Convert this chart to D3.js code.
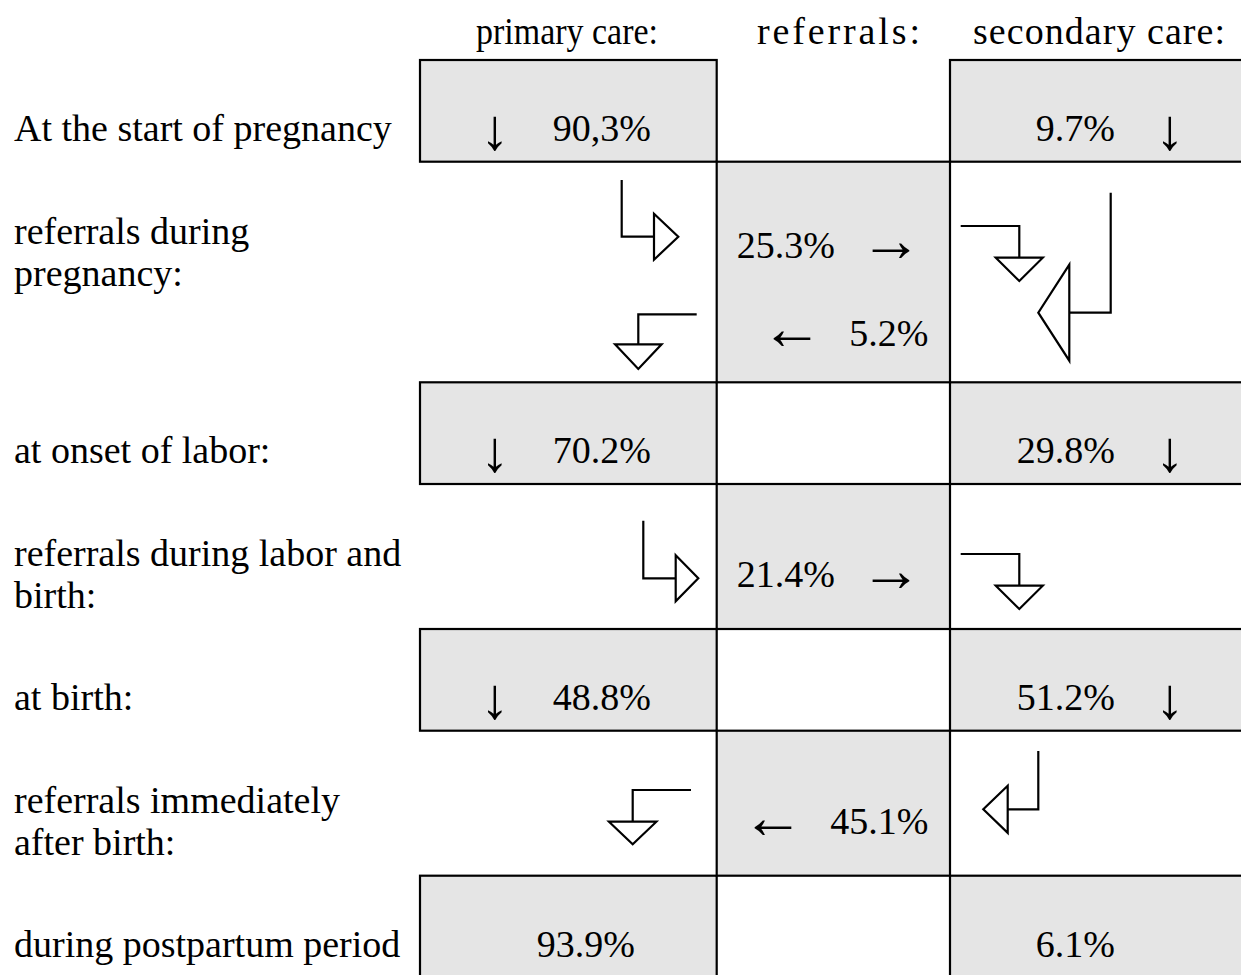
<!DOCTYPE html>
<html>
<head>
<meta charset="utf-8">
<script src="https://cdn.jsdelivr.net/npm/d3@7"></script>
<style>
  body { margin: 0; background: #fff; }
  text { font-family: "Liberation Serif", "Times New Roman", serif; fill: #000; }
</style>
</head>
<body>
<div id="main"></div>
<script>
// chart data
const columns = ["primary care:", "referrals:", "secondary care:"];
const stages = ["At the start of pregnancy", "at onset of labor:", "at birth:", "during postpartum period"];
const transitions = [["referrals during", "pregnancy:"], ["referrals during labor and", "birth:"], ["referrals immediately", "after birth:"]];
const primaryPct = ["90,3%", "70.2%", "48.8%", "93.9%"];
const secondaryPct = ["9.7%", "29.8%", "51.2%", "6.1%"];
const continuesDown = [true, true, true, false];
const toSecondary = ["25.3%", "21.4%", null];
const toPrimary = ["5.2%", null, "45.1%"];

//layout
const width = 1241;
const height = 975;
const fontSize = 38;
const arrowSize = 62;
const colEdges = [420, 716.7, 950, 1250];
const rowEdges = [60, 161.7, 382.3, 484, 629, 730.7, 875.7, 1000];
const grey = "#e5e5e5";

const rowTop = d3.scaleOrdinal().domain(d3.range(7)).range(rowEdges.slice(0, 7));
const rowBottom = d3.scaleOrdinal().domain(d3.range(7)).range(rowEdges.slice(1));
const colLeft = d3.scaleOrdinal().domain(columns).range(colEdges.slice(0, 3));
const colRight = d3.scaleOrdinal().domain(columns).range(colEdges.slice(1));

const svg = d3.select("#main").append("svg")
  .attr("width", width)
  .attr("height", height)
  .style("display", "block");

// header
const headerLen = [182, 163, 252];
const headerX = [476, 757, 973];
const headerAdj = ["spacingAndGlyphs", "spacing", "spacing"];
svg.selectAll("text.header")
  .data(columns)
  .enter()
  .append("text")
  .attr("class", "header")
  .attr("x", (d, i) => headerX[i])
  .attr("y", 44)
  .attr("font-size", (d, i) => i === 0 ? 37 : fontSize)
  .attr("textLength", (d, i) => headerLen[i])
  .attr("lengthAdjust", (d, i) => headerAdj[i])
  .text(d => d);

// stage boxes (primary / secondary), rows 0,2,4,6
const stageRows = stages.map((s, i) => ({
  label: s, row: i * 2, prim: primaryPct[i], sec: secondaryPct[i], down: continuesDown[i]
}));

const boxes = [];
stageRows.forEach(d => {
  boxes.push({ row: d.row, col: columns[0] });
  boxes.push({ row: d.row, col: columns[2] });
});
// referral cells, rows 1,3,5
transitions.forEach((t, i) => boxes.push({ row: i * 2 + 1, col: columns[1] }));

svg.selectAll("rect.cell")
  .data(boxes)
  .enter()
  .append("rect")
  .attr("class", "cell")
  .attr("x", d => colLeft(d.col))
  .attr("y", d => rowTop(d.row))
  .attr("width", d => colRight(d.col) - colLeft(d.col))
  .attr("height", d => rowBottom(d.row) - rowTop(d.row))
  .attr("fill", grey)
  .attr("stroke", "#000")
  .attr("stroke-width", 2.2);

// stage labels + values
const baseOf = d => rowTop(d.row) + 81;

svg.selectAll("text.stage")
  .data(stageRows)
  .enter()
  .append("text")
  .attr("class", "stage")
  .attr("x", 14)
  .attr("y", baseOf)
  .attr("font-size", fontSize)
  .text(d => d.label);

svg.selectAll("text.prim")
  .data(stageRows)
  .enter()
  .append("text")
  .attr("class", "prim")
  .attr("x", d => d.down ? 651 : 635)
  .attr("y", baseOf)
  .attr("text-anchor", "end")
  .attr("font-size", fontSize)
  .text(d => d.prim);

svg.selectAll("text.sec")
  .data(stageRows)
  .enter()
  .append("text")
  .attr("class", "sec")
  .attr("x", 1115)
  .attr("y", baseOf)
  .attr("text-anchor", "end")
  .attr("font-size", fontSize)
  .text(d => d.sec);

const downs = stageRows.filter(d => d.down);
svg.selectAll("text.downP")
  .data(downs)
  .enter()
  .append("text")
  .attr("x", 495)
  .attr("y", d => baseOf(d) + 8)
  .attr("text-anchor", "middle")
  .attr("font-size", 58)
  .text("\u2193");
svg.selectAll("text.downS")
  .data(downs)
  .enter()
  .append("text")
  .attr("x", 1170)
  .attr("y", d => baseOf(d) + 8)
  .attr("text-anchor", "middle")
  .attr("font-size", 58)
  .text("\u2193");

// transition labels
const transRows = transitions.map((t, i) => ({
  lines: t, row: i * 2 + 1, right: toSecondary[i], left: toPrimary[i]
}));

transRows.forEach(d => {
  const t = svg.append("text")
    .attr("x", 14)
    .attr("y", rowTop(d.row) + 82)
    .attr("font-size", fontSize);
  d.lines.forEach((l, j) => {
    t.append("tspan").attr("x", 14).attr("dy", j === 0 ? 0 : 42).text(l);
  });

  const both = d.right && d.left;
  const xRef = colLeft(columns[1]);
  const xSec = colLeft(columns[2]);
  if (d.right) {
    const y = rowTop(d.row) + (both ? 96.3 : 103.3);
    svg.append("text").attr("x", xRef + 20).attr("y", y)
      .attr("font-size", fontSize).text(d.right);
    svg.append("text").attr("x", xRef + 174).attr("y", y + 3.4)
      .attr("text-anchor", "middle")
      .attr("font-size", arrowSize).text("\u2192");
  }
  if (d.left) {
    const y = rowTop(d.row) + (both ? 184.3 : 103.6);
    const pct = svg.append("text").attr("x", xSec - 21.7).attr("y", y)
      .attr("text-anchor", "end")
      .attr("font-size", fontSize).text(d.left);
    const w = pct.node().getComputedTextLength();
    svg.append("text").attr("x", xSec - 21.7 - w - 57.5).attr("y", y + 3.4)
      .attr("text-anchor", "middle")
      .attr("font-size", arrowSize).text("\u2190");
  }
});

// elbow arrows
const arrows = [
  { start: [621.7, 180], corner: [621.7, 236.7], base: [654, 236.7], dir: "right", half: 23, depth: 24.3 },
  { start: [696.7, 314.3], corner: [638.3, 314.3], base: [638.3, 344.3], dir: "down", half: 23.3, depth: 24.7 },
  { start: [960.7, 226], corner: [1019.3, 226], base: [1019.3, 257.7], dir: "down", half: 23.5, depth: 23.3 },
  { start: [1110.7, 192.7], corner: [1110.7, 312.7], base: [1069.3, 312.7], dir: "left", half: 48, depth: 31 },
  { start: [643.3, 520.7], corner: [643.3, 578.3], base: [675.7, 578.3], dir: "right", half: 23, depth: 22.6 },
  { start: [960.7, 554], corner: [1019.3, 554], base: [1019.3, 585.7], dir: "down", half: 23.5, depth: 23.3 },
  { start: [691, 790], corner: [632.7, 790], base: [632.7, 821.7], dir: "down", half: 23.7, depth: 22.6 },
  { start: [1038.3, 751], corner: [1038.3, 809.3], base: [1007.7, 809.3], dir: "left", half: 23.5, depth: 24.4 }
];

const line = d3.line();

svg.selectAll("path.shaft")
  .data(arrows)
  .enter()
  .append("path")
  .attr("class", "shaft")
  .attr("d", d => line([d.start, d.corner, d.base]))
  .attr("fill", "none")
  .attr("stroke", "#000")
  .attr("stroke-width", 2.2);

function headPoints(d) {
  const [bx, by] = d.base;
  if (d.dir === "right") return [[bx, by - d.half], [bx + d.depth, by], [bx, by + d.half]];
  if (d.dir === "left") return [[bx, by - d.half], [bx - d.depth, by], [bx, by + d.half]];
  return [[bx - d.half, by], [bx, by + d.depth], [bx + d.half, by]];
}

svg.selectAll("path.head")
  .data(arrows)
  .enter()
  .append("path")
  .attr("class", "head")
  .attr("d", d => line(headPoints(d)) + "Z")
  .attr("fill", "#fff")
  .attr("stroke", "#000")
  .attr("stroke-width", 2.2)
  .attr("stroke-linejoin", "miter");
</script>
</body>
</html>
